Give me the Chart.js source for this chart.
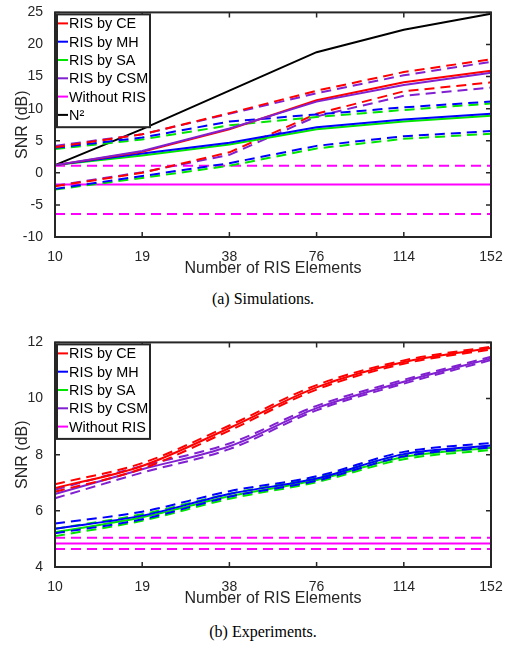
<!DOCTYPE html>
<html>
<head>
<meta charset="utf-8">
<script src="https://cdn.jsdelivr.net/npm/chart.js@4.4.0/dist/chart.umd.min.js"></script>
<style>
  body { margin: 0; background: #fff; width: 512px; height: 650px; position: relative; overflow: hidden; }
  canvas { position: absolute; left: 0; }
  .cap { position: absolute; left: 7px; width: 512px; text-align: center; font-family: "Liberation Serif", serif; font-size: 16px; color: #000; }
</style>
</head>
<body>
<canvas id="simChart" width="512" height="290" style="top:0"></canvas>
<canvas id="expChart" width="512" height="290" style="top:330px"></canvas>
<div class="cap" style="top:290px">(a) Simulations.</div>
<div class="cap" style="top:623px">(b) Experiments.</div>
<script>
// x axis: number of RIS elements
const elementLabels = ['10', '19', '38', '76', '114', '152'];

// (a) Simulations, SNR (dB)
const simCE = [1.2, 3.3, 6.8, 11.3, 14.1, 15.9];
const simCEUpper = [4.0, 6.0, 9.3, 12.8, 15.7, 17.7];
const simCELower = [-2.1, 0.0, 3.2, 9.2, 12.7, 14.1];
const simMH = [1.2, 3.0, 4.7, 7.1, 8.3, 9.2];
const simMHUpper = [3.9, 5.5, 8.0, 9.1, 10.2, 11.1];
const simMHLower = [-2.5, -0.5, 1.5, 4.2, 5.7, 6.5];
const simSA = [1.2, 2.7, 4.4, 6.8, 8.0, 8.9];
const simSAUpper = [3.7, 5.2, 7.4, 8.7, 9.8, 10.8];
const simSALower = [-2.6, -0.8, 1.1, 3.8, 5.3, 6.1];
const simCSM = [1.2, 3.4, 6.9, 11.1, 13.7, 15.6];
const simCSMUpper = [4.2, 6.0, 9.2, 12.4, 15.2, 17.3];
const simCSMLower = [-2.0, 0.1, 2.8, 8.8, 12.0, 13.3];
const simNoRIS = [-1.8, -1.8, -1.8, -1.8, -1.8, -1.8];
const simNoRISUpper = [1.1, 1.1, 1.1, 1.1, 1.1, 1.1];
const simNoRISLower = [-6.4, -6.4, -6.4, -6.4, -6.4, -6.4];
const simN2 = [1.2, 6.8, 12.8, 18.8, 22.3, 24.8];

// (b) Experiments, SNR (dB)
const expCE = [6.81, 7.6, 8.95, 10.4, 11.3, 11.8];
const expCEUpper = [6.95, 7.7, 9.04, 10.48, 11.36, 11.85];
const expCELower = [6.68, 7.5, 8.86, 10.32, 11.24, 11.75];
const expMH = [5.36, 5.83, 6.6, 7.15, 8.02, 8.33];
const expMHUpper = [5.55, 5.97, 6.7, 7.23, 8.1, 8.42];
const expMHLower = [5.2, 5.7, 6.5, 7.07, 7.94, 8.26];
const expSA = [5.24, 5.77, 6.52, 7.1, 7.92, 8.25];
const expSAUpper = [5.36, 5.88, 6.61, 7.18, 8.0, 8.32];
const expSALower = [5.1, 5.65, 6.43, 7.02, 7.84, 8.17];
const expCSM = [6.6, 7.48, 8.3, 9.66, 10.6, 11.43];
const expCSMUpper = [6.75, 7.6, 8.4, 9.74, 10.67, 11.49];
const expCSMLower = [6.45, 7.36, 8.2, 9.58, 10.53, 11.37];
const expNoRIS = [4.84, 4.84, 4.84, 4.84, 4.84, 4.84];
const expNoRISUpper = [5.04, 5.04, 5.04, 5.04, 5.04, 5.04];
const expNoRISLower = [4.64, 4.64, 4.64, 4.64, 4.64, 4.64];

const RED = '#ff0000', BLUE = '#0000ff', GREEN = '#00e600', PURPLE = '#8020d0', MAGENTA = '#ff00ff', BLACK = '#000000';
const AXIS = '#262626';
const FONT = '"Liberation Sans", Arial, sans-serif';

function line(label, data, color, dashed, smooth) {
  return {
    label: label,
    data: data,
    borderColor: color,
    backgroundColor: color,
    borderWidth: 2,
    borderDash: dashed ? [10, 6] : [],
    pointRadius: 0,
    fill: false,
    tension: 0,
    cubicInterpolationMode: smooth ? 'monotone' : 'default'
  };
}

// draws the matlab style box with inward ticks and the boxed legend
const boxFrame = {
  id: 'boxFrame',
  afterDatasetsDraw(chart, args, opts) {
    const ctx = chart.ctx;
    const a = chart.chartArea;
    const x = chart.scales.x, y = chart.scales.y;
    ctx.save();
    ctx.strokeStyle = AXIS;
    ctx.lineWidth = 1.5;
    ctx.beginPath();
    x.ticks.forEach((t, i) => {
      const px = x.getPixelForTick(i);
      ctx.moveTo(px, a.bottom); ctx.lineTo(px, a.bottom - 5);
      ctx.moveTo(px, a.top); ctx.lineTo(px, a.top + 5);
    });
    y.ticks.forEach((t, i) => {
      const py = y.getPixelForTick(i);
      ctx.moveTo(a.left, py); ctx.lineTo(a.left + 5, py);
      ctx.moveTo(a.right, py); ctx.lineTo(a.right - 5, py);
    });
    ctx.stroke();
    ctx.lineWidth = 2;
    ctx.strokeRect(a.left, a.top, a.right - a.left, a.bottom - a.top);

    // legend box
    const names = opts.items || [];
    const rowH = 18.3;
    const bx = a.left + 2, by = a.top + 2;
    const bw = 93, bh = names.length * rowH + 3;
    ctx.fillStyle = '#fff';
    ctx.fillRect(bx, by, bw, bh);
    ctx.strokeStyle = AXIS;
    ctx.lineWidth = 2;
    ctx.strokeRect(bx, by, bw, bh);
    ctx.font = '14.4px ' + FONT;
    ctx.textBaseline = 'middle';
    ctx.textAlign = 'left';
    names.forEach((name, i) => {
      const ds = chart.data.datasets.find(d => d.label === name);
      const cy = by + 9 + i * rowH;
      ctx.strokeStyle = ds.borderColor;
      ctx.lineWidth = 2;
      ctx.beginPath();
      ctx.moveTo(bx + 1, cy); ctx.lineTo(bx + 11, cy);
      ctx.stroke();
      ctx.fillStyle = '#000';
      ctx.fillText(name, bx + 12, cy + 1);
    });
    ctx.restore();
  }
};

function makeOptions(yMin, yMax, yStep, legendItems) {
  return {
    responsive: false,
    animation: false,
    devicePixelRatio: 1,
    layout: { padding: { top: 10, right: 21, left: 0, bottom: 0 } },
    plugins: {
      legend: { display: false },
      tooltip: { enabled: false },
      boxFrame: { items: legendItems }
    },
    scales: {
      x: {
        type: 'category',
        labels: elementLabels,
        offset: false,
        grid: { display: false },
        border: { display: false },
        ticks: { color: AXIS, font: { family: FONT, size: 14 }, padding: 4, maxRotation: 0, autoSkip: false },
        title: { display: true, text: 'Number of RIS Elements', color: AXIS, font: { family: FONT, size: 16 }, padding: { top: 0, bottom: 12 } },
        afterFit(scale) { scale.height = 53; }
      },
      y: {
        min: yMin,
        max: yMax,
        grid: { display: false },
        border: { display: false },
        ticks: { stepSize: yStep, color: AXIS, font: { family: FONT, size: 14 }, padding: 4 },
        title: { display: true, text: 'SNR (dB)', color: AXIS, font: { family: FONT, size: 16 }, padding: { top: 13, bottom: 0 } },
        afterFit(scale) { scale.width = 55; }
      }
    }
  };
}

new Chart(document.getElementById('simChart'), {
  type: 'line',
  data: {
    labels: elementLabels,
    datasets: [
      line('RIS by CSM', simCSM, PURPLE, false),
      line('RIS by CE', simCE, RED, false),
      line('RIS by MH', simMH, BLUE, false),
      line('RIS by SA', simSA, GREEN, false),
      line('CE upper', simCEUpper, RED, true),
      line('CSM upper', simCSMUpper, PURPLE, true),
      line('MH upper', simMHUpper, BLUE, true),
      line('SA upper', simSAUpper, GREEN, true),
      line('CE lower', simCELower, RED, true),
      line('CSM lower', simCSMLower, PURPLE, true),
      line('MH lower', simMHLower, BLUE, true),
      line('SA lower', simSALower, GREEN, true),
      line('Without RIS', simNoRIS, MAGENTA, false),
      line('No RIS upper', simNoRISUpper, MAGENTA, true),
      line('No RIS lower', simNoRISLower, MAGENTA, true),
      line('N²', simN2, BLACK, false)
    ]
  },
  options: makeOptions(-10, 25, 5, ['RIS by CE', 'RIS by MH', 'RIS by SA', 'RIS by CSM', 'Without RIS', 'N²']),
  plugins: [boxFrame]
});

new Chart(document.getElementById('expChart'), {
  type: 'line',
  data: {
    labels: elementLabels,
    datasets: [
      line('RIS by CE', expCE, RED, false, true),
      line('CE upper', expCEUpper, RED, true, true),
      line('CE lower', expCELower, RED, true, true),
      line('RIS by CSM', expCSM, PURPLE, false, true),
      line('CSM upper', expCSMUpper, PURPLE, true, true),
      line('CSM lower', expCSMLower, PURPLE, true, true),
      line('RIS by MH', expMH, BLUE, false, true),
      line('MH upper', expMHUpper, BLUE, true, true),
      line('MH lower', expMHLower, BLUE, true, true),
      line('RIS by SA', expSA, GREEN, false, true),
      line('SA upper', expSAUpper, GREEN, true, true),
      line('SA lower', expSALower, GREEN, true, true),
      line('Without RIS', expNoRIS, MAGENTA, false),
      line('No RIS upper', expNoRISUpper, MAGENTA, true),
      line('No RIS lower', expNoRISLower, MAGENTA, true)
    ]
  },
  options: makeOptions(4, 12, 2, ['RIS by CE', 'RIS by MH', 'RIS by SA', 'RIS by CSM', 'Without RIS']),
  plugins: [boxFrame]
});
</script>
</body>
</html>
